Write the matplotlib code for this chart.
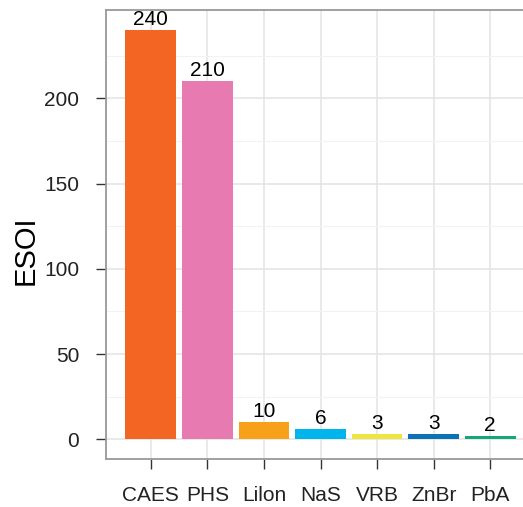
import matplotlib
matplotlib.use('Agg')
import matplotlib.pyplot as plt
from matplotlib.ticker import FixedLocator

plt.rcParams['font.family'] = ['Liberation Sans', 'DejaVu Sans']

# данные
technologies = ["CAES", "PHS", "LiIon", "NaS", "VRB", "ZnBr", "PbA"]
tick_labels = ["CAES", "PHS", "Lilon", "NaS", "VRB", "ZnBr", "PbA"]
esoi = [240, 210, 10, 6, 3, 3, 2]
colors = ["#F26522", "#E67AB1", "#F7A11A", "#00B5EE", "#EFE541", "#0A72B5", "#15A77C"]
y_ticks = [0, 50, 100, 150, 200]
y_minor = [25, 75, 125, 175, 225]

fig = plt.figure(figsize=(5.23, 5.07), dpi=100)
# правая граница панели обрезана краем картинки, как в оригинале
ax = fig.add_axes([0.2021, 0.0941, 0.8107, 0.8856])

x = list(range(len(technologies)))
ax.bar(x, esoi, width=0.9, color=colors, zorder=3)
for xi, v in zip(x, esoi):
    ax.text(xi, v + 0.6, str(v), ha='center', va='bottom', fontsize=15, color='black', zorder=4)

ax.set_xlim(-0.8, 6.7)
ax.set_ylim(-11.7, 251.6)
ax.set_xticks(x)
ax.set_xticklabels(tick_labels)
ax.yaxis.set_major_locator(FixedLocator(y_ticks))
ax.yaxis.set_minor_locator(FixedLocator(y_minor))

# сетка как в ggplot theme_bw
ax.grid(True, which='major', color='#E3E3E3', linewidth=1.1, zorder=0)
ax.grid(True, which='minor', axis='y', color='#F2F2F2', linewidth=0.8, zorder=0)
ax.tick_params(which='minor', length=0)
ax.tick_params(which='major', direction='out', length=7, width=1.0, color='#333333',
               labelsize=15, labelcolor='#222222', pad=12)

for side in ['left', 'bottom', 'top', 'right']:
    ax.spines[side].set_color('#999999')
    ax.spines[side].set_linewidth(1.3)

ax.set_ylabel('ESOI', fontsize=21)
ax.yaxis.set_label_coords(-0.157, 0.465)

fig.savefig('out.png', dpi=100)
